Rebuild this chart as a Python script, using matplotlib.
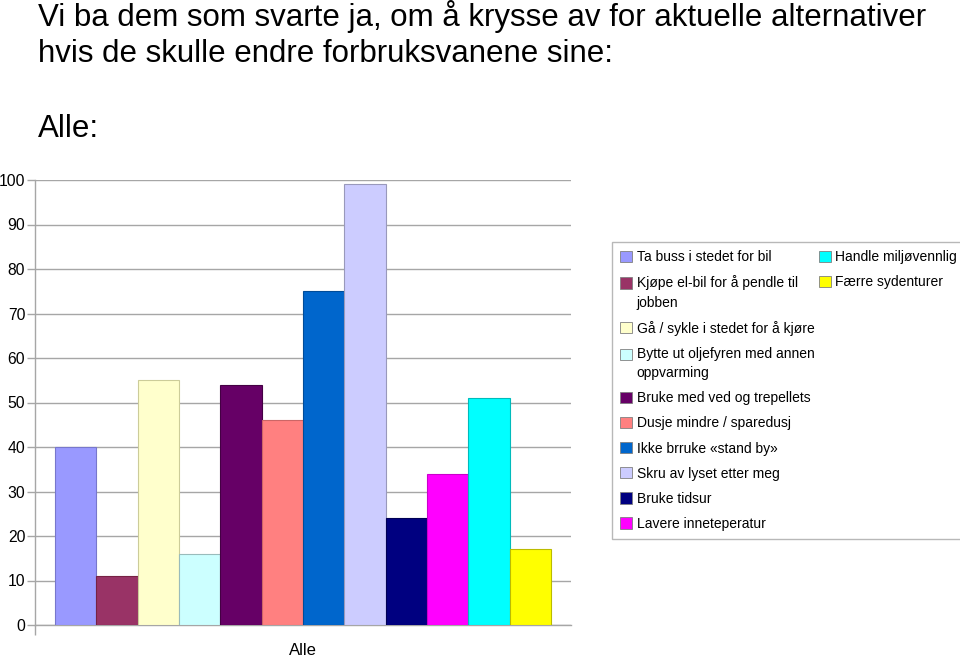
import matplotlib
matplotlib.use("Agg")
import matplotlib.pyplot as plt
from matplotlib.patches import Rectangle
from matplotlib.legend_handler import HandlerPatch

title_text = "Vi ba dem som svarte ja, om å krysse av for aktuelle alternativer\nhvis de skulle endre forbruksvanene sine:"
subtitle_text = "Alle:"
group_label = "Alle"

categories = [
    "Ta buss i stedet for bil",
    "Kjøpe el-bil for å pendle til\njobben",
    "Gå / sykle i stedet for å kjøre",
    "Bytte ut oljefyren med annen\noppvarming",
    "Bruke med ved og trepellets",
    "Dusje mindre / sparedusj",
    "Ikke brruke «stand by»",
    "Skru av lyset etter meg",
    "Bruke tidsur",
    "Lavere inneteperatur",
    "Handle miljøvennlig",
    "Færre sydenturer",
]
values = [40, 11, 55, 16, 54, 46, 75, 99, 24, 34, 51, 17]
colors = ["#9999FF", "#993366", "#FFFFCC", "#CCFFFF", "#660066", "#FF8080",
          "#0066CC", "#CCCCFF", "#000080", "#FF00FF", "#00FFFF", "#FFFF00"]
edges = ["#7777CC", "#772244", "#CCCC99", "#99BBBB", "#440044", "#CC6666",
         "#004C99", "#9999BB", "#000055", "#CC00CC", "#00BBBB", "#BBBB00"]
yticks = [0, 10, 20, 30, 40, 50, 60, 70, 80, 90, 100]

plt.rcParams['font.family'] = ['Liberation Sans', 'DejaVu Sans']

fig = plt.figure(figsize=(9.6, 6.58), dpi=100)
ax = fig.add_axes([35/960, 1-625/658, (571-35)/960, (625-180)/658])

x = list(range(len(values)))
ax.bar(x, values, width=1.0, color=colors, edgecolor=edges, linewidth=0.8, zorder=3)

ax.set_ylim(0, 100)
ax.set_xlim(-0.5-0.484, len(values)-0.5+0.484)
ax.set_yticks(yticks)
ax.set_yticklabels([str(v) for v in yticks], fontsize=11.3)
ax.yaxis.grid(True, color="#a6a6a6", linewidth=1.0, zorder=0)
ax.set_axisbelow(True)
ax.tick_params(axis='y', length=6, color="#a6a6a6", width=1.0, pad=1)
ax.set_xticks([(len(values)-1)/2])
ax.set_xticklabels([group_label], fontsize=12)
ax.tick_params(axis='x', length=0, pad=13)
ax.set_xticks([-0.5-0.484], minor=True)
ax.tick_params(axis='x', which='minor', length=7, color="#a6a6a6", width=1.0)
for s in ['top', 'right']:
    ax.spines[s].set_visible(False)
for s in ['left', 'bottom']:
    ax.spines[s].set_color("#a6a6a6")
    ax.spines[s].set_linewidth(1.0)

fig.text(38/960, 1-0/658, title_text, fontsize=22.5, va='top', ha='left', linespacing=1.26)
fig.text(38/960, 1-137/658, subtitle_text, fontsize=22.5, va='baseline', ha='left')


def shifted(shift_pt):
    def f(legend, orig_handle, xdescent, ydescent, width, height, fontsize):
        return Rectangle((-xdescent, -ydescent + shift_pt), width, height)
    return HandlerPatch(patch_func=f)


handles = [Rectangle((0, 0), 1, 1, facecolor=c, edgecolor="#808080", linewidth=0.6) for c in colors]
labels = list(categories)
hmap = {}
for h, lab in zip(handles, labels):
    if "\n" in lab:
        hmap[h] = shifted(7.2)
blank = [Rectangle((0, 0), 1, 1, facecolor='none', edgecolor='none') for _ in range(8)]
handles = handles + blank
labels = labels + [""] * 8
leg = fig.legend(handles, labels, ncol=2, loc='upper left',
                 bbox_to_anchor=(612/960, 1-242/658), bbox_transform=fig.transFigure,
                 prop={'size': 10}, handler_map=hmap,
                 handlelength=0.86, handleheight=0.86, handletextpad=0.35,
                 labelspacing=0.8, columnspacing=0.3, borderpad=0.57,
                 borderaxespad=0, frameon=True, fancybox=False)
for t in leg.get_texts():
    t.set_linespacing(1.5)
leg.get_frame().set_edgecolor("#a6a6a6")
leg.get_frame().set_linewidth(1.0)

fig.savefig("out.png", dpi=100)
